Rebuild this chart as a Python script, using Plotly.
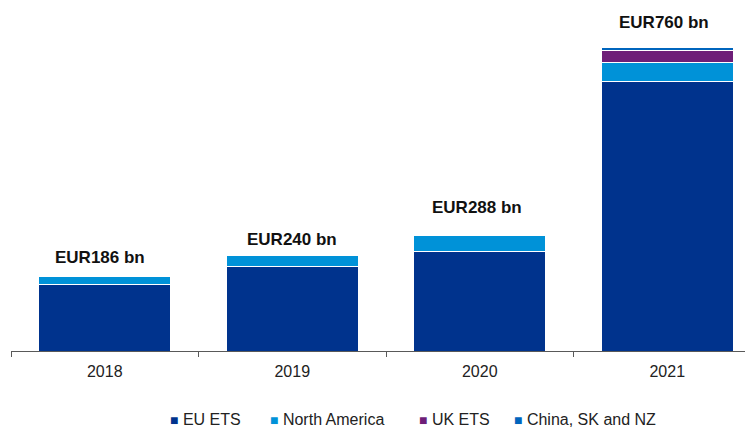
import plotly.graph_objects as go

# Carbon market values by year, EUR bn
years = ["2018", "2019", "2020", "2021"]
eu_ets = [167, 211, 249, 673]
north_america = [19, 29, 39, 49]
uk_ets = [0, 0, 0, 30]
china_sk_nz = [0, 0, 0, 8]
totals = [186, 240, 288, 760]
total_labels = ["EUR186 bn", "EUR240 bn", "EUR288 bn", "EUR760 bn"]

series_names = ["EU ETS", "North America", "UK ETS", "China, SK and NZ"]
series_colors = ["#00338D", "#0092D8", "#6E1E78", "#0065BD"]
series_values = [eu_ets, north_america, uk_ets, china_sk_nz]

FONT = "Liberation Sans, Arial, sans-serif"

fig = go.Figure()
for name, color, vals in zip(series_names, series_colors, series_values):
    fig.add_trace(go.Bar(
        x=years, y=vals, name=name,
        marker=dict(color=color, line=dict(color="white", width=1)),
        showlegend=False,
    ))

# Total labels above each stack (category index positions, per-label offsets)
label_yshift = [19, 16, 28, 25]
label_xshift = [-5, 0, -3, -3]
for i, (tot, txt, ys, xs) in enumerate(zip(totals, total_labels, label_yshift, label_xshift)):
    fig.add_annotation(
        x=i, y=tot, text=f"<b>{txt}</b>", showarrow=False,
        xanchor="center", yanchor="middle", yshift=ys, xshift=xs,
        font=dict(family=FONT, size=17, color="#111111"),
    )

# Legend row built from coloured squares and names
plot_left, plot_width = 11, 734
legend_px = [168, 268, 417, 512]
for name, color, px in zip(series_names, series_colors, legend_px):
    fig.add_annotation(
        xref="paper", yref="paper",
        x=(px - plot_left) / plot_width, y=-0.202,
        xanchor="left", yanchor="middle", showarrow=False,
        text=f"<span style='font-size:14px;color:{color}'>■</span> {name}",
        font=dict(family=FONT, size=16, color="#222222"),
    )

fig.update_layout(
    barmode="stack",
    bargap=0.296,
    width=745, height=427,
    margin=dict(l=plot_left, r=0, t=10, b=76),
    paper_bgcolor="white", plot_bgcolor="white",
    font=dict(family=FONT, size=16, color="#222222"),
    xaxis=dict(
        type="category",
        range=[-0.5, -0.5 + plot_width / 187.5],
        showline=True, linecolor="#595959", linewidth=1,
        ticks="outside", tickson="boundaries", ticklen=5,
        tickcolor="#595959", tickwidth=1,
        ticklabelstandoff=6,
        tickfont=dict(family=FONT, size=16, color="#222222"),
        showgrid=False, zeroline=False,
    ),
    yaxis=dict(
        range=[0, 341 / 0.4],
        visible=False, showgrid=False, zeroline=False,
    ),
)

fig.write_html("out.html")
